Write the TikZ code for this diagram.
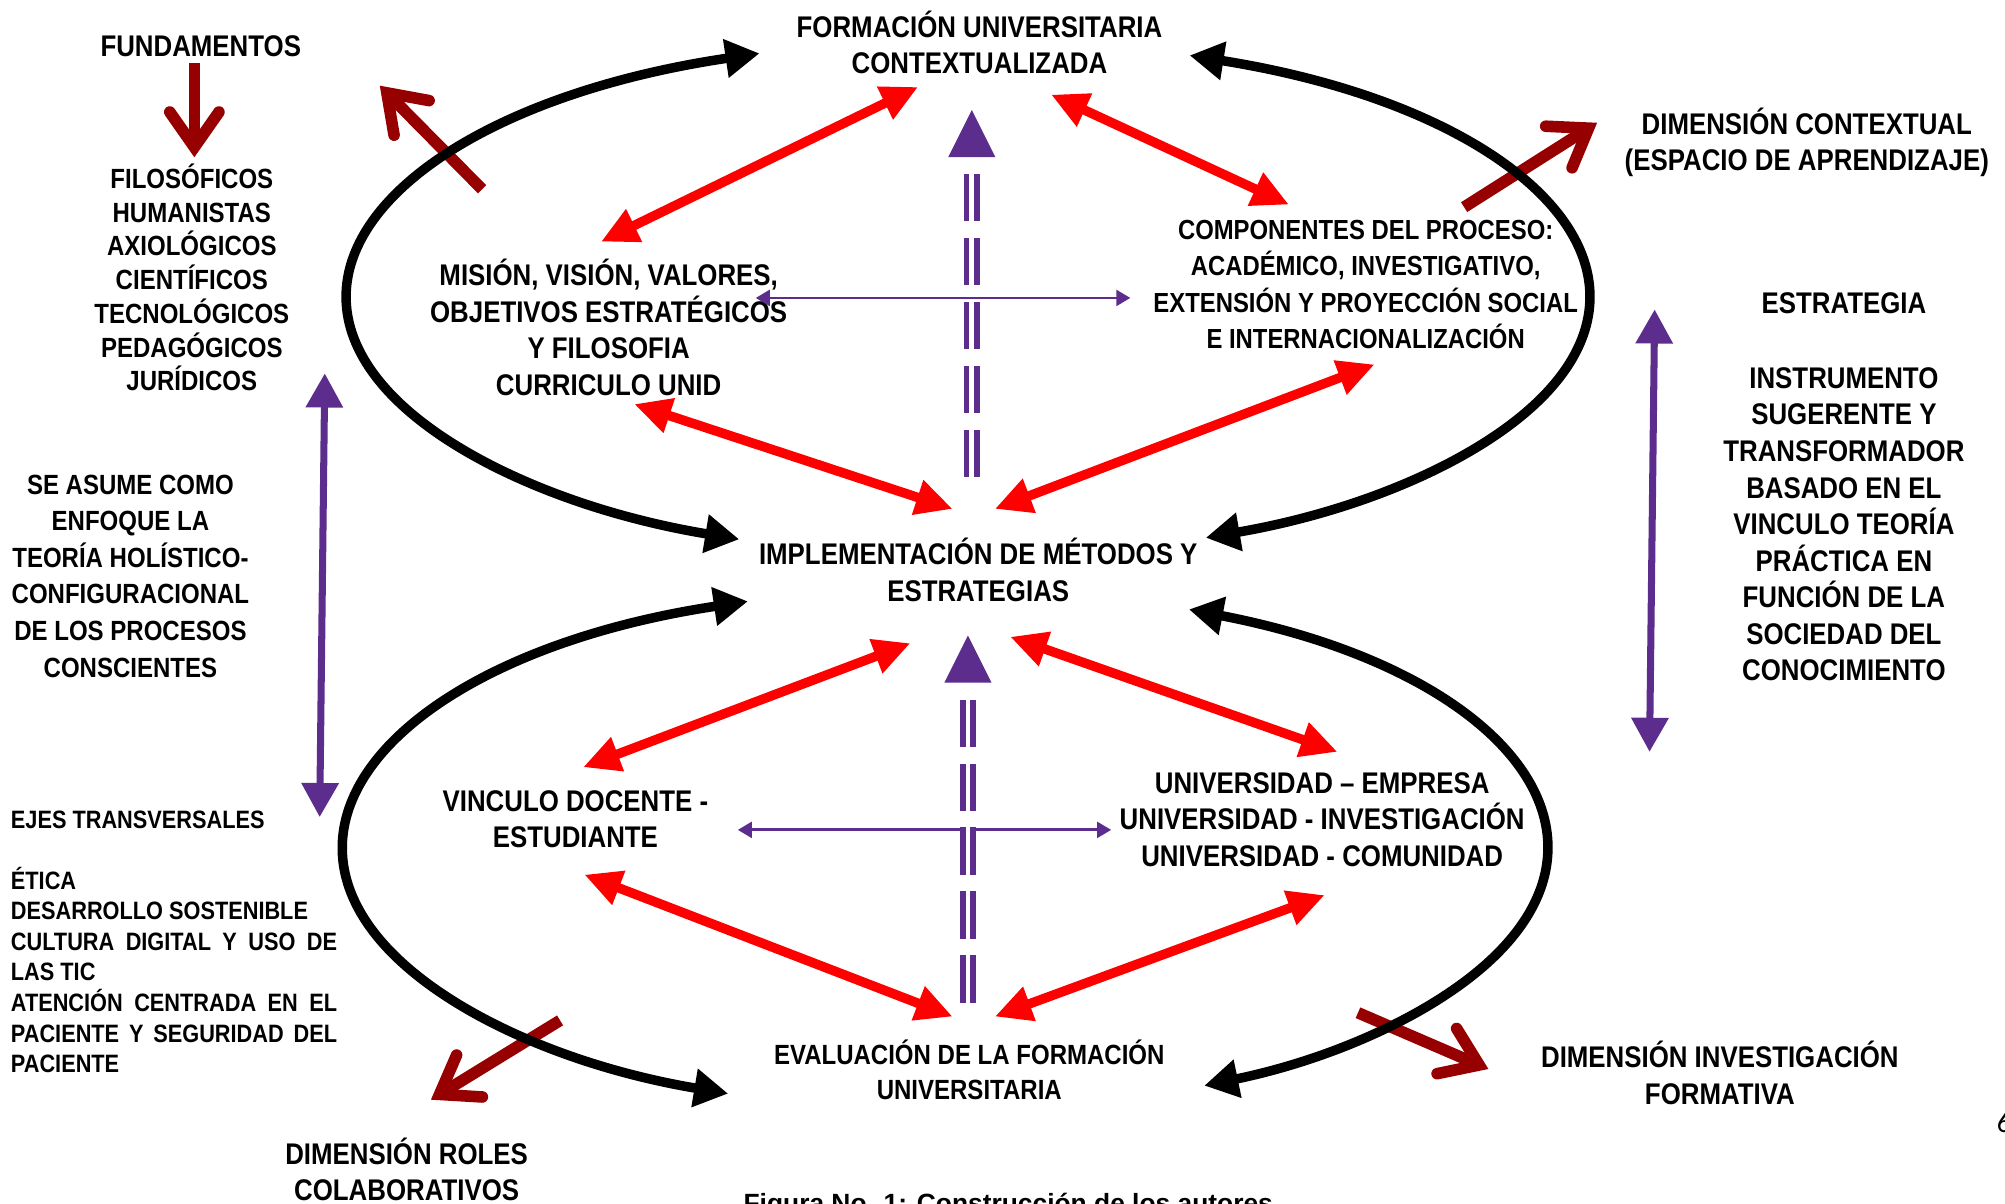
\documentclass[tikz,border=0pt]{standalone}
\usepackage{fontspec}
\setmainfont{Liberation Sans}[FakeStretch=0.865]
\newfontfamily\capfont{Liberation Sans}
\newfontfamily\pagefont{Carlito}
\usetikzlibrary{arrows.meta}

\definecolor{rojo}{RGB}{255,0,0}
\definecolor{vino}{RGB}{150,0,0}
\definecolor{morado}{RGB}{92,45,140}

\tikzset{
  lbl/.style={font=\bfseries\fontsize{8.5}{10.4}\selectfont, align=center, inner sep=0pt},
  lazo/.style={line width=2.7pt, black, {Triangle[length=9.7pt, width=10.5pt]}-{Triangle[length=9.7pt, width=10.5pt]}},
  flecha/.style={line width=2.7pt, rojo, {Triangle[length=10.5pt, width=9.7pt]}-{Triangle[length=10.5pt, width=9.7pt]}},
  salida/.style={line width=3.3pt, vino, -{Straight Barb[length=10pt, width=14pt, line cap=round, line join=miter]}},
  eje/.style={line width=2pt, morado, {Triangle[length=9.7pt, width=10.2pt]}-{Triangle[length=9.7pt, width=10.2pt]}},
  enlace/.style={line width=0.8pt, morado, {Triangle[length=4pt, width=4.5pt]}-{Triangle[length=4pt, width=4.5pt]}},
  guia/.style={line width=1.6pt, morado, double=white, double distance=1.4pt, dash pattern=on 13.4pt off 4.8pt},
}

\begin{document}
\begin{tikzpicture}[x=0.012787cm, y=0.012787cm]
\useasboundingbox (0, 0) rectangle (1568, -941);

\node[lbl] (ftop) at (766, -33) {FORMACIÓN UNIVERSITARIA\\CONTEXTUALIZADA};
\node[lbl] (fund) at (157, -36) {FUNDAMENTOS};
\node[lbl, font=\bfseries\fontsize{7.9}{9.6}\selectfont] (fundlist) at (150, -217) {FILOSÓFICOS\\HUMANISTAS\\AXIOLÓGICOS\\CIENTÍFICOS\\TECNOLÓGICOS\\PEDAGÓGICOS\\JURÍDICOS};
\node[lbl] (dimctx) at (1413, -111.5) {DIMENSIÓN CONTEXTUAL\\(ESPACIO DE APRENDIZAJE)};
\node[lbl] (mision) at (476, -256) {MISIÓN, VISIÓN, VALORES,\\OBJETIVOS ESTRATÉGICOS\\Y FILOSOFIA\\CURRICULO UNID};
\node[lbl, font=\bfseries\fontsize{7.85}{10.3}\selectfont] (comp) at (1068, -222.5) {COMPONENTES DEL PROCESO:\\ACADÉMICO, INVESTIGATIVO,\\EXTENSIÓN Y PROYECCIÓN SOCIAL\\E INTERNACIONALIZACIÓN};
\node[lbl] (estr) at (1442, -237) {ESTRATEGIA};
\node[lbl] (instr) at (1442, -410) {INSTRUMENTO\\SUGERENTE Y\\TRANSFORMADOR\\BASADO EN EL\\VINCULO TEORÍA\\PRÁCTICA EN\\FUNCIÓN DE LA\\SOCIEDAD DEL\\CONOCIMIENTO};
\node[lbl, font=\bfseries\fontsize{7.9}{10.4}\selectfont] (asume) at (102, -450.5) {SE ASUME COMO\\ENFOQUE LA\\TEORÍA HOLÍSTICO-\\CONFIGURACIONAL\\DE LOS PROCESOS\\CONSCIENTES};
\node[lbl] (impl) at (765, -445.5) {IMPLEMENTACIÓN DE MÉTODOS Y\\ESTRATEGIAS};
\node[lbl] (vinc) at (450, -640.5) {VINCULO DOCENTE -\\ESTUDIANTE};
\node[lbl] (univ) at (1034, -641) {UNIVERSIDAD – EMPRESA\\UNIVERSIDAD - INVESTIGACIÓN\\UNIVERSIDAD - COMUNIDAD};
\node[lbl, font=\bfseries\fontsize{7.15}{8.7}\selectfont, text width=92.8pt, align=justify, anchor=west] (ejes) at (8, -736.5)
  {EJES TRANSVERSALES\\[8.7pt]ÉTICA\\DESARROLLO SOSTENIBLE\\CULTURA DIGITAL Y USO DE\linebreak LAS TIC\\ATENCIÓN CENTRADA EN EL\linebreak PACIENTE Y SEGURIDAD DEL\linebreak PACIENTE};
\node[lbl, font=\bfseries\fontsize{7.9}{9.8}\selectfont] (eval) at (758, -836.5) {EVALUACIÓN DE LA FORMACIÓN\\UNIVERSITARIA};
\node[lbl] (diminv) at (1345, -839) {DIMENSIÓN INVESTIGACIÓN\\FORMATIVA};
\node[lbl] (roles) at (318, -914.5) {DIMENSIÓN ROLES\\COLABORATIVOS};
\node[anchor=base west, inner sep=0pt, font=\capfont\bfseries\fontsize{7.5}{9}\selectfont] (cap) at (581, -948) {Figura No. 1: Construcción de los autores};
\node[anchor=base west, inner sep=0pt, font=\pagefont\fontsize{8.2}{10}\selectfont] (pag) at (1561, -886) {6};

\path (152, -49) coordinate (d1a) (152, -123) coordinate (d1b)
      (377, -148) coordinate (d2a) (297, -67) coordinate (d2b)
      (1145, -162) coordinate (d3a) (1249, -96) coordinate (d3b)
      (438, -798) coordinate (d4a) (337, -860) coordinate (d4b)
      (1062, -792) coordinate (d5a) (1164, -836) coordinate (d5b);
\draw[salida] (d1a) -- (d1b);
\draw[salida] (d2a) -- (d2b);
\draw[salida] (d3a) -- (d3b);
\draw[salida] (d4a) -- (d4b);
\draw[salida] (d5a) -- (d5b);

\coordinate (ucen) at (757, -233);
\coordinate (lcen) at (739, -664);
\path (ucen) ++(109.6:486 and 203) coordinate (ulA)
      (ucen) ++(69.1:486 and 203) coordinate (urA)
      (lcen) ++(109.1:471 and 205) coordinate (llA)
      (lcen) ++(66.1:471 and 205) coordinate (lrA);
\draw[lazo] (ulA) arc[start angle=109.6, end angle=248.4, x radius=486, y radius=203];
\draw[lazo] (urA) arc[start angle=69.1, end angle=-67.5, x radius=486, y radius=203];
\draw[lazo] (llA) arc[start angle=109.1, end angle=248.9, x radius=471, y radius=205];
\draw[lazo] (lrA) arc[start angle=66.1, end angle=-64.5, x radius=471, y radius=205];

\path (470, -189) coordinate (r1a) (718, -68) coordinate (r1b)
      (822, -74) coordinate (r2a) (1008, -160) coordinate (r2b)
      (496, -316) coordinate (r3a) (745, -398) coordinate (r3b)
      (778, -398) coordinate (r4a) (1075, -285) coordinate (r4b)
      (456, -600) coordinate (r5a) (712, -503) coordinate (r5b)
      (790, -498) coordinate (r6a) (1046, -588) coordinate (r6b)
      (457, -684) coordinate (r7a) (745, -795) coordinate (r7b)
      (778, -795) coordinate (r8a) (1036, -700) coordinate (r8b);
\draw[flecha] (r1a) -- (r1b);
\draw[flecha] (r2a) -- (r2b);
\draw[flecha] (r3a) -- (r3b);
\draw[flecha] (r4a) -- (r4b);
\draw[flecha] (r5a) -- (r5b);
\draw[flecha] (r6a) -- (r6b);
\draw[flecha] (r7a) -- (r7b);
\draw[flecha] (r8a) -- (r8b);

\path (254, -292) coordinate (p1a) (250, -639) coordinate (p1b)
      (1294, -242) coordinate (p2a) (1290, -588) coordinate (p2b)
      (591, -233) coordinate (h1a) (884, -233) coordinate (h1b)
      (577, -649) coordinate (h2a) (869, -649) coordinate (h2b);
\draw[eje] (p1a) -- (p1b);
\draw[eje] (p2a) -- (p2b);
\draw[enlace] (h1a) -- (h1b);
\draw[enlace] (h2a) -- (h2b);

\path (760, -373) coordinate (g1a) (760, -135) coordinate (g1b) (760, -86) coordinate (g1t)
      (757, -784) coordinate (g2a) (757, -545) coordinate (g2b) (757, -497) coordinate (g2t);
\draw[guia] (g1a) -- (g1b);
\draw[guia] (g2a) -- (g2b);
\fill[morado] (g1t) -- ++(-18.4, -36.8) -- ++(36.8, 0) -- cycle;
\fill[morado] (g2t) -- ++(-18.4, -36.8) -- ++(36.8, 0) -- cycle;
\end{tikzpicture}
\end{document}
